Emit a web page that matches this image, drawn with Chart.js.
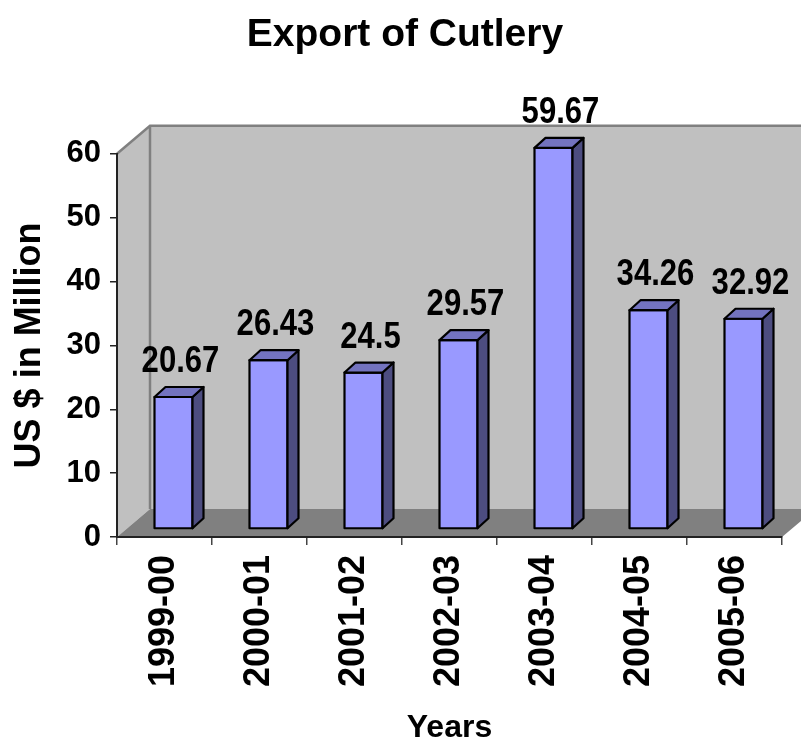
<!DOCTYPE html>
<html><head><meta charset="utf-8">
<script src="https://cdn.jsdelivr.net/npm/chart.js@4.4.1/dist/chart.umd.min.js"></script>
<style>html,body{margin:0;padding:0;background:#fff;} canvas{display:block;}</style>
</head><body>
<canvas id="c" width="801" height="747" style="width:801px;height:747px"></canvas>
<script>
const categories = ['1999-00','2000-01','2001-02','2002-03','2003-04','2004-05','2005-06'];
const exportValues = [20.67, 26.43, 24.5, 29.57, 59.67, 34.26, 32.92];
const valueLabels = ['20.67','26.43','24.5','29.57','59.67','34.26','32.92'];
const yTicks = [0, 10, 20, 30, 40, 50, 60];

const FONT = "'Liberation Sans', Arial, sans-serif";

const box3d = {
  id: 'box3d',
  beforeDraw(chart) {
    const ctx = chart.ctx;
    const xs = chart.scales.x, ys = chart.scales.y;
    const L = xs.left, R = xs.right, T = ys.top, B = ys.bottom;
    const DX = 33, DY = -28;
    ctx.save();
    ctx.fillStyle = '#fff';
    ctx.fillRect(0, 0, chart.width, chart.height);
    // back wall
    ctx.fillStyle = '#C0C0C0';
    ctx.beginPath();
    ctx.moveTo(L + DX, T + DY); ctx.lineTo(R + DX, T + DY);
    ctx.lineTo(R + DX, B + DY); ctx.lineTo(L + DX, B + DY); ctx.closePath();
    ctx.fill();
    // left wall
    ctx.beginPath();
    ctx.moveTo(L, T); ctx.lineTo(L + DX, T + DY); ctx.lineTo(L + DX, B + DY); ctx.lineTo(L, B); ctx.closePath();
    ctx.fill();
    // floor
    ctx.fillStyle = '#808080';
    ctx.beginPath();
    ctx.moveTo(L, B); ctx.lineTo(L + DX, B + DY); ctx.lineTo(R + DX, B + DY); ctx.lineTo(R, B); ctx.closePath();
    ctx.fill();
    // edges
    ctx.strokeStyle = '#808080';
    ctx.lineWidth = 2.5;
    ctx.beginPath();
    ctx.moveTo(L, T); ctx.lineTo(L + DX, T + DY); ctx.lineTo(R + DX, T + DY);
    ctx.moveTo(L + DX, T + DY); ctx.lineTo(L + DX, B + DY);
    ctx.stroke();
    ctx.restore();
  },
  afterDatasetsDraw(chart) {
    const ctx = chart.ctx;
    const meta = chart.getDatasetMeta(0);
    const OX = 9, OY = -8, BX = 11, BY = -10;
    ctx.save();
    ctx.lineWidth = 2.2;
    ctx.lineJoin = 'round';
    ctx.strokeStyle = '#000';
    meta.data.forEach((bar, i) => {
      const p = bar.getProps(['x', 'y', 'base', 'width'], true);
      const xl = p.x - p.width / 2 + OX, xr = p.x + p.width / 2 + OX;
      const top = p.y + OY, bot = p.base + OY;
      // front
      ctx.fillStyle = '#9999FF';
      ctx.beginPath(); ctx.rect(xl, top, xr - xl, bot - top); ctx.fill(); ctx.stroke();
      // side
      ctx.fillStyle = '#4D4D80';
      ctx.beginPath();
      ctx.moveTo(xr, top); ctx.lineTo(xr + BX, top + BY); ctx.lineTo(xr + BX, bot + BY); ctx.lineTo(xr, bot); ctx.closePath();
      ctx.fill(); ctx.stroke();
      // top
      ctx.fillStyle = '#7373BF';
      ctx.beginPath();
      ctx.moveTo(xl, top); ctx.lineTo(xl + BX, top + BY); ctx.lineTo(xr + BX, top + BY); ctx.lineTo(xr, top); ctx.closePath();
      ctx.fill(); ctx.stroke();
      // value label
      ctx.save();
      ctx.fillStyle = '#000';
      ctx.font = 'bold 37px ' + FONT;
      ctx.textAlign = 'center';
      ctx.textBaseline = 'alphabetic';
      ctx.translate((xl + xr) / 2 + 7, top - 25);
      ctx.scale(0.84, 1);
      ctx.fillText(valueLabels[i], 0, 0);
      ctx.restore();
    });
    ctx.restore();
  }
};

new Chart(document.getElementById('c'), {
  type: 'bar',
  data: {
    labels: categories,
    datasets: [{
      data: exportValues,
      backgroundColor: 'rgba(0,0,0,0)',
      borderWidth: 0,
      barPercentage: 0.4,
      categoryPercentage: 1
    }]
  },
  options: {
    responsive: false,
    animation: false,
    devicePixelRatio: 1,
    layout: { padding: { left: 28, right: 19, top: 0, bottom: 0 } },
    plugins: {
      legend: { display: false },
      tooltip: { enabled: false },
      title: {
        display: true,
        text: 'Export of Cutlery',
        color: '#000',
        font: { family: FONT, size: 39, weight: 'bold' },
        padding: { top: 12, bottom: 95 }
      }
    },
    scales: {
      x: {
        grid: { offset: true, drawOnChartArea: false, drawTicks: true, tickLength: 8, color: '#444', lineWidth: 1.5 },
        border: { display: true, color: '#222', width: 2 },
        ticks: {
          autoSkip: false, maxRotation: 90, minRotation: 90, padding: 10,
          color: '#000', font: { family: FONT, size: 36, weight: 'bold' }
        },
        title: {
          display: true, text: 'Years', color: '#000', padding: 0,
          font: { family: FONT, size: 32, weight: 'bold' }
        },
        afterFit(scale) { scale.height = 210; }
      },
      y: {
        min: 0, max: 60,
        afterBuildTicks(scale) { scale.ticks = yTicks.map(v => ({ value: v })); },
        grid: { drawOnChartArea: false, drawTicks: true, tickLength: 7, color: '#222', lineWidth: 1.5 },
        border: { display: true, color: '#222', width: 2 },
        ticks: {
          padding: 9, color: '#000',
          font: { family: FONT, size: 31, weight: 'bold' }
        },
        title: {
          display: true, text: 'US $ in Million', color: '#000', padding: { top: -20, bottom: 0 },
          font: { family: FONT, size: 36, weight: 'bold' }
        },
        afterFit(scale) { scale.width = 89; }
      }
    }
  },
  plugins: [box3d]
});
</script>
</body></html>
